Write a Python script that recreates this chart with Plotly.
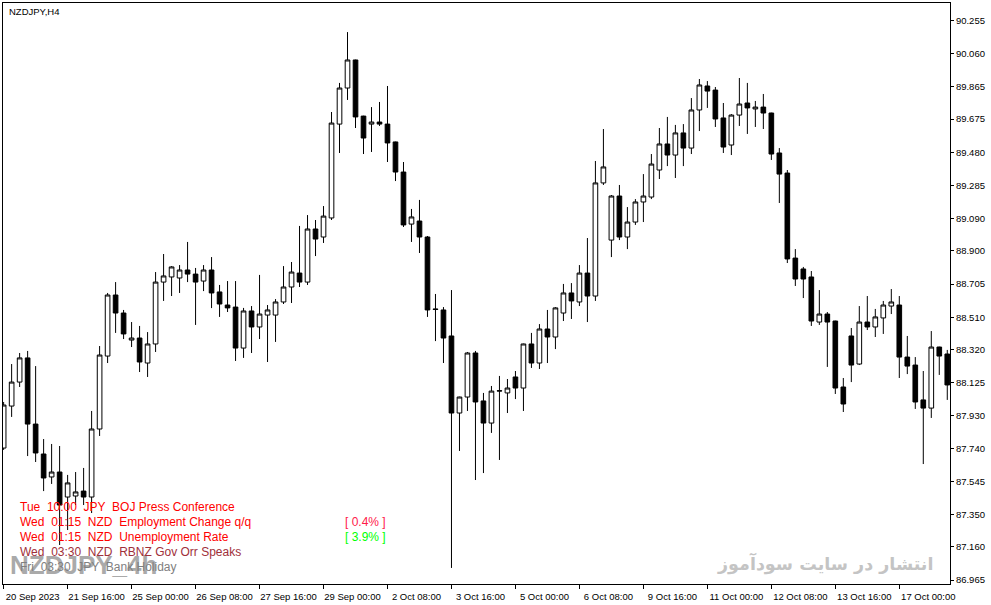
import plotly.graph_objects as go

# NZDJPY H4 bars (index 0 = 20 Sep 2023 08:00, weekends skipped like MT4)
bar_open = [
    87.741, 87.988, 88.129, 88.271, 87.882, 87.706, 87.571, 87.600, 87.453, 87.459,
    87.488, 87.453, 87.853, 88.282, 88.641, 88.535, 88.376, 88.388, 88.241, 88.353,
    88.717, 88.747, 88.741, 88.788, 88.764, 88.723, 88.788, 88.659, 88.582, 88.570,
    88.329, 88.547, 88.453, 88.523, 88.523, 88.600, 88.688, 88.770, 88.717, 89.029,
    88.982, 89.094, 89.646, 89.858, 90.023, 89.693, 89.646, 89.658, 89.646, 89.541,
    89.364, 89.058, 89.076, 88.982, 88.559, 88.553, 88.400, 87.947, 88.041, 88.300,
    88.018, 87.888, 88.076, 88.065, 88.159, 88.094, 88.353, 88.241, 88.441, 88.394,
    88.535, 88.653, 88.600, 88.770, 88.635, 89.300, 88.964, 89.223, 88.982, 89.070,
    89.188, 89.217, 89.376, 89.529, 89.464, 89.594, 89.505, 89.729, 89.870, 89.846,
    89.682, 89.523, 89.699, 89.770, 89.735, 89.746, 89.711, 89.476, 89.358, 88.858,
    88.794, 88.747, 88.482, 88.529, 88.488, 88.100, 88.400, 88.235, 88.482, 88.453,
    88.506, 88.576, 88.582, 88.276, 88.229, 88.024, 87.976, 88.335, 88.294,
]
bar_high = [
    88.012, 88.235, 88.300, 88.312, 88.223, 87.794, 87.765, 87.753, 87.583, 87.600,
    87.624, 87.959, 88.341, 88.653, 88.717, 88.553, 88.482, 88.459, 88.423, 88.776,
    88.882, 88.811, 88.817, 88.953, 88.800, 88.817, 88.864, 88.700, 88.723, 88.723,
    88.565, 88.576, 88.759, 88.582, 88.617, 88.811, 88.835, 89.047, 89.111, 89.082,
    89.164, 89.717, 89.888, 90.187, 90.025, 89.695, 89.746, 89.776, 89.870, 89.543,
    89.423, 89.147, 89.200, 88.988, 88.647, 88.570, 88.670, 88.043, 88.306, 88.312,
    88.065, 88.106, 88.165, 88.147, 88.194, 88.355, 88.418, 88.470, 88.553, 88.570,
    88.706, 88.711, 88.817, 88.976, 89.429, 89.617, 89.229, 89.288, 89.158, 89.205,
    89.352, 89.470, 89.623, 89.688, 89.641, 89.646, 89.799, 89.911, 89.899, 89.864,
    89.770, 89.705, 89.917, 89.888, 89.782, 89.823, 89.713, 89.505, 89.376, 88.911,
    88.806, 88.782, 88.670, 88.541, 88.490, 88.153, 88.447, 88.576, 88.635, 88.559,
    88.606, 88.676, 88.635, 88.400, 88.276, 88.194, 88.429, 88.337, 88.318,
]
bar_low = [
    87.730, 87.924, 88.100, 87.694, 87.659, 87.488, 87.530, 87.171, 87.259, 87.406,
    87.406, 87.359, 87.812, 88.241, 88.418, 88.382, 88.335, 88.188, 88.159, 88.306,
    88.606, 88.635, 88.653, 88.717, 88.465, 88.664, 88.564, 88.512, 88.541, 88.253,
    88.271, 88.300, 88.382, 88.247, 88.365, 88.588, 88.594, 88.688, 88.700, 88.870,
    88.947, 89.082, 89.476, 89.788, 89.623, 89.470, 89.482, 89.635, 89.423, 89.311,
    89.041, 88.953, 88.888, 88.512, 88.370, 88.241, 87.036, 87.724, 87.959, 87.553,
    87.594, 87.830, 87.671, 87.947, 88.029, 87.959, 88.212, 88.206, 88.241, 88.323,
    88.488, 88.500, 88.576, 88.482, 88.606, 89.288, 88.864, 88.964, 88.911, 89.053,
    89.070, 89.205, 89.323, 89.399, 89.329, 89.399, 89.470, 89.605, 89.741, 89.629,
    89.476, 89.464, 89.635, 89.588, 89.629, 89.617, 89.435, 89.182, 88.829, 88.694,
    88.623, 88.459, 88.465, 88.218, 88.059, 87.953, 88.129, 88.229, 88.435, 88.394,
    88.412, 88.529, 88.153, 88.176, 87.971, 87.647, 87.918, 88.171, 88.024,
]
bar_close = [
    87.994, 88.129, 88.271, 87.882, 87.712, 87.565, 87.600, 87.406, 87.536, 87.483,
    87.453, 87.853, 88.288, 88.641, 88.535, 88.412, 88.388, 88.247, 88.353, 88.717,
    88.753, 88.806, 88.788, 88.764, 88.717, 88.788, 88.653, 88.588, 88.565, 88.329,
    88.547, 88.453, 88.529, 88.553, 88.600, 88.688, 88.776, 88.717, 89.029, 88.970,
    89.105, 89.652, 89.858, 90.023, 89.688, 89.564, 89.658, 89.646, 89.535, 89.364,
    89.053, 89.100, 88.982, 88.553, 88.556, 88.388, 87.947, 88.041, 88.300, 88.012,
    87.888, 88.076, 88.078, 88.094, 88.094, 88.353, 88.241, 88.441, 88.394, 88.565,
    88.653, 88.606, 88.770, 88.635, 89.300, 89.394, 89.223, 88.982, 89.070, 89.188,
    89.223, 89.411, 89.529, 89.464, 89.594, 89.505, 89.729, 89.876, 89.840, 89.676,
    89.511, 89.699, 89.764, 89.741, 89.746, 89.711, 89.470, 89.352, 88.853, 88.735,
    88.735, 88.488, 88.529, 88.482, 88.094, 88.000, 88.229, 88.482, 88.453, 88.512,
    88.582, 88.600, 88.276, 88.223, 88.012, 87.976, 88.335, 88.282, 88.112,
]

time_tick_bars = [0, 8, 16, 24, 32, 40, 48, 56, 64, 72, 80, 88, 96, 104, 112]
time_tick_labels = [
    "20 Sep 2023", "21 Sep 16:00", "25 Sep 00:00", "26 Sep 08:00", "27 Sep 16:00",
    "29 Sep 00:00", "2 Oct 08:00", "3 Oct 16:00", "5 Oct 00:00", "6 Oct 08:00",
    "9 Oct 16:00", "11 Oct 00:00", "12 Oct 08:00", "13 Oct 16:00", "17 Oct 00:00",
]
price_ticks = [90.255, 90.060, 89.865, 89.675, 89.480, 89.285, 89.090, 88.900, 88.705,
               88.510, 88.320, 88.125, 87.930, 87.740, 87.545, 87.350, 87.160, 86.965]

news_rows = [
    "Tue  10:00  JPY  BOJ Press Conference",
    "Wed  01:15  NZD  Employment Change q/q",
    "Wed  01:15  NZD  Unemployment Rate",
    "Wed  03:30  NZD  RBNZ Gov Orr Speaks",
    "Fri  03:30  JPY  Bank Holiday",
]
news_colors = ["#ff0000", "#ff0000", "#ff0000", "#a0303a", "#808080"]
news_values = ["", "[ 0.4% ]", "[ 3.9% ]", "", ""]
value_colors = ["", "#ff1a4a", "#00ff00", "", ""]

W, H = 991, 605
ML, MR, MT, MB = 3, 41, 3, 21
PW, PH = W - ML - MR, H - MT - MB


def px_x(p):
    return (p - ML) / PW


def px_y(p):
    return (H - MB - p) / PH


fig = go.Figure()
fig.add_trace(go.Candlestick(
    x=list(range(len(bar_open))),
    open=bar_open, high=bar_high, low=bar_low, close=bar_close,
    increasing=dict(fillcolor="white", line=dict(color="black", width=1)),
    decreasing=dict(fillcolor="black", line=dict(color="black", width=1)),
    whiskerwidth=0,
    hoverinfo="skip",
    showlegend=False,
))

ann = []
# watermarks go first so the news list sits on top of them
ann.append(dict(x=px_x(8), y=px_y(565), xref="paper", yref="paper",
                text="NZDJPY_4h", showarrow=False, xanchor="left", yanchor="middle",
                font=dict(family="Liberation Sans", size=26, weight=900, color="#aaaaaa")))
ann.append(dict(x=px_x(935), y=px_y(563), xref="paper", yref="paper",
                text="انتشار در سایت سودآموز", showarrow=False,
                xanchor="right", yanchor="middle",
                font=dict(family="DejaVu Sans", size=17.5, weight="bold", color="#c4c4c4")))
ann.append(dict(x=px_x(7), y=px_y(11), xref="paper", yref="paper", text="NZDJPY,H4",
                showarrow=False, xanchor="left", yanchor="middle",
                font=dict(size=9.5, color="black")))
for i, row in enumerate(news_rows):
    ypos = 507 + 15 * i
    ann.append(dict(x=px_x(18), y=px_y(ypos), xref="paper", yref="paper",
                    text=row.replace("  ", " \u00a0"), showarrow=False,
                    xanchor="left", yanchor="middle",
                    font=dict(size=12, color=news_colors[i])))
    if news_values[i]:
        ann.append(dict(x=px_x(343), y=px_y(ypos), xref="paper", yref="paper",
                        text=news_values[i], showarrow=False,
                        xanchor="left", yanchor="middle",
                        font=dict(size=12, color=value_colors[i])))

fig.update_layout(
    width=W, height=H,
    margin=dict(l=ML, r=MR, t=MT, b=MB),
    paper_bgcolor="white", plot_bgcolor="white",
    font=dict(family="Liberation Sans", size=9.5, color="black"),
    boxgap=0.42, boxgroupgap=0,
    annotations=ann,
    xaxis=dict(
        range=[-0.08, 118.34], rangeslider=dict(visible=False),
        showgrid=False, zeroline=False,
        showline=True, mirror=True, linecolor="black", linewidth=1,
        ticks="outside", ticklen=4, tickcolor="black", tickwidth=1,
        tickmode="array", tickvals=time_tick_bars, ticktext=time_tick_labels,
        ticklabelshift=29,
    ),
    yaxis=dict(
        range=[86.9416, 90.358], side="right",
        showgrid=False, zeroline=False,
        showline=True, mirror=True, linecolor="black", linewidth=1,
        ticks="outside", ticklen=3, tickcolor="black", tickwidth=1,
        tickmode="array", tickvals=price_ticks,
        ticktext=[f"{v:.3f}" for v in price_ticks],
    ),
)

fig.write_html("out.html", config={"displayModeBar": False},
               post_script="document.body.style.margin='0';")
